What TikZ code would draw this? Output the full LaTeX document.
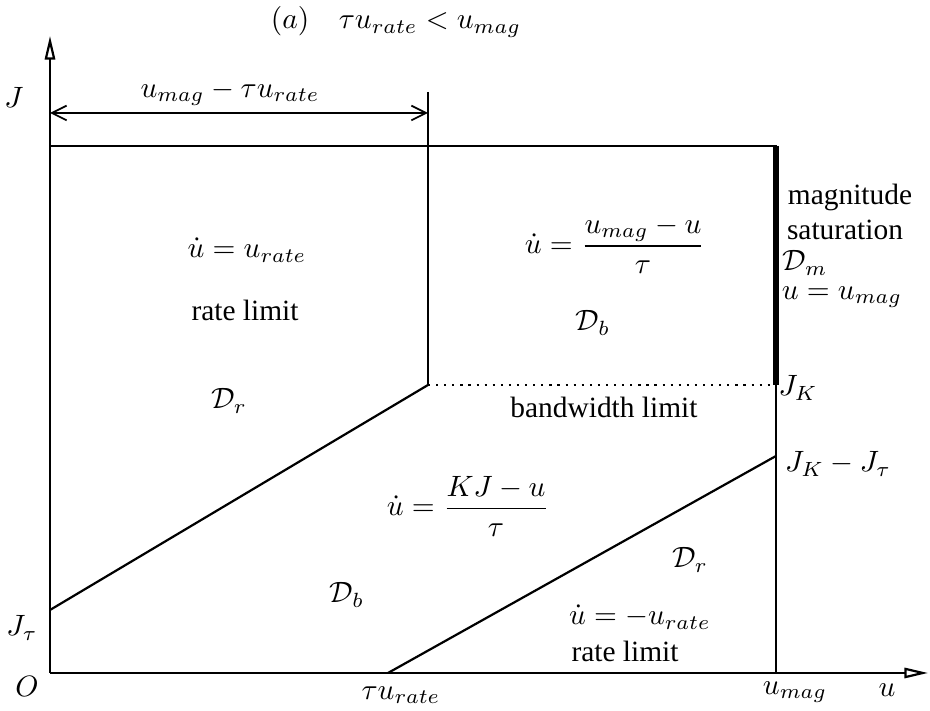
\documentclass[tikz,border=0pt]{standalone}
\usepackage{amsmath}
\usepackage{fontspec}
\setmainfont{Liberation Serif}
\usetikzlibrary{arrows.meta}
\begin{document}
\begin{tikzpicture}[x=0.34pt,y=-0.34pt,line width=0.75pt,
  lab/.style={inner sep=1pt},
  axis/.style={-{Triangle[open,length=8pt,width=3.5pt]}},
  dim/.style={{Straight Barb[length=5pt,width=5pt]}-{Straight Barb[length=5pt,width=5pt]},line width=0.6pt}]
\useasboundingbox (0,0) rectangle (930,711);
% key points
\coordinate (O) at (50,673);
\coordinate (Ytop) at (50,36);
\coordinate (Xend) at (928,673);
\coordinate (TL) at (50,146);
\coordinate (TR) at (776,146);
\coordinate (BR) at (776,673);
\coordinate (K) at (776,385);
\coordinate (M) at (428,385);
\coordinate (Mtop) at (428,92);
\coordinate (Jt) at (50,610);
\coordinate (Tu) at (388,673);
\coordinate (JKJt) at (776,456);
\coordinate (DL) at (50,113);
\coordinate (DR) at (428,113);
% axes
\draw[axis] (O) -- (Ytop);
\draw[axis] (O) -- (Xend);
% box
\draw (TL) -- (TR) -- (BR);
\draw[line width=2.2pt] (TR) -- (K);
\draw (Mtop) -- (M);
\draw[dotted] (M) -- (K);
\draw (Jt) -- (M);
\draw (Tu) -- (JKJt);
\draw[dim] (DL) -- (DR);
% labels
\node[lab] (title) at (396,22) {$(a)\quad \tau u_{rate} < u_{mag}$};
\node[lab] (J) at (14,97) {$J$};
\node[lab] (dimlab) at (230,93) {$u_{mag} - \tau u_{rate}$};
\node[lab] (e1) at (247,250) {$\dot u = u_{rate}$};
\node[lab] (rl1) at (245,310) {rate limit};
\node[lab] (Dr1) at (229,401) {$\mathcal{D}_r$};
\node[lab] (e2) at (615,245) {$\dot u = \dfrac{u_{mag}-u}{\tau}$};
\node[lab] (Db1) at (593,323) {$\mathcal{D}_b$};
\node[lab] (ms1) at (850,197) {magnitude};
\node[lab] (ms2) at (845,230) {saturation};
\node[lab] (Dm) at (805,263) {$\mathcal{D}_m$};
\node[lab] (e3) at (842,297) {$u = u_{mag}$};
\node[lab] (JK) at (798,388) {$J_K$};
\node[lab] (bw) at (604,407) {bandwidth limit};
\node[lab] (JKJtl) at (838,464) {$J_K - J_\tau$};
\node[lab] (e4) at (468,506) {$\dot u = \dfrac{KJ-u}{\tau}$};
\node[lab] (Db2) at (347,595) {$\mathcal{D}_b$};
\node[lab] (Dr2) at (690,560) {$\mathcal{D}_r$};
\node[lab] (e5) at (640,617) {$\dot u = -u_{rate}$};
\node[lab] (rl2) at (625,651) {rate limit};
\node[lab] (Jtl) at (22,628) {$J_\tau$};
\node[lab] (Ol) at (27,686) {$O$};
\node[lab] (tul) at (401,695) {$\tau u_{rate}$};
\node[lab] (uml) at (795,692) {$u_{mag}$};
\node[lab] (ul) at (887,690) {$u$};
\end{tikzpicture}
\end{document}
